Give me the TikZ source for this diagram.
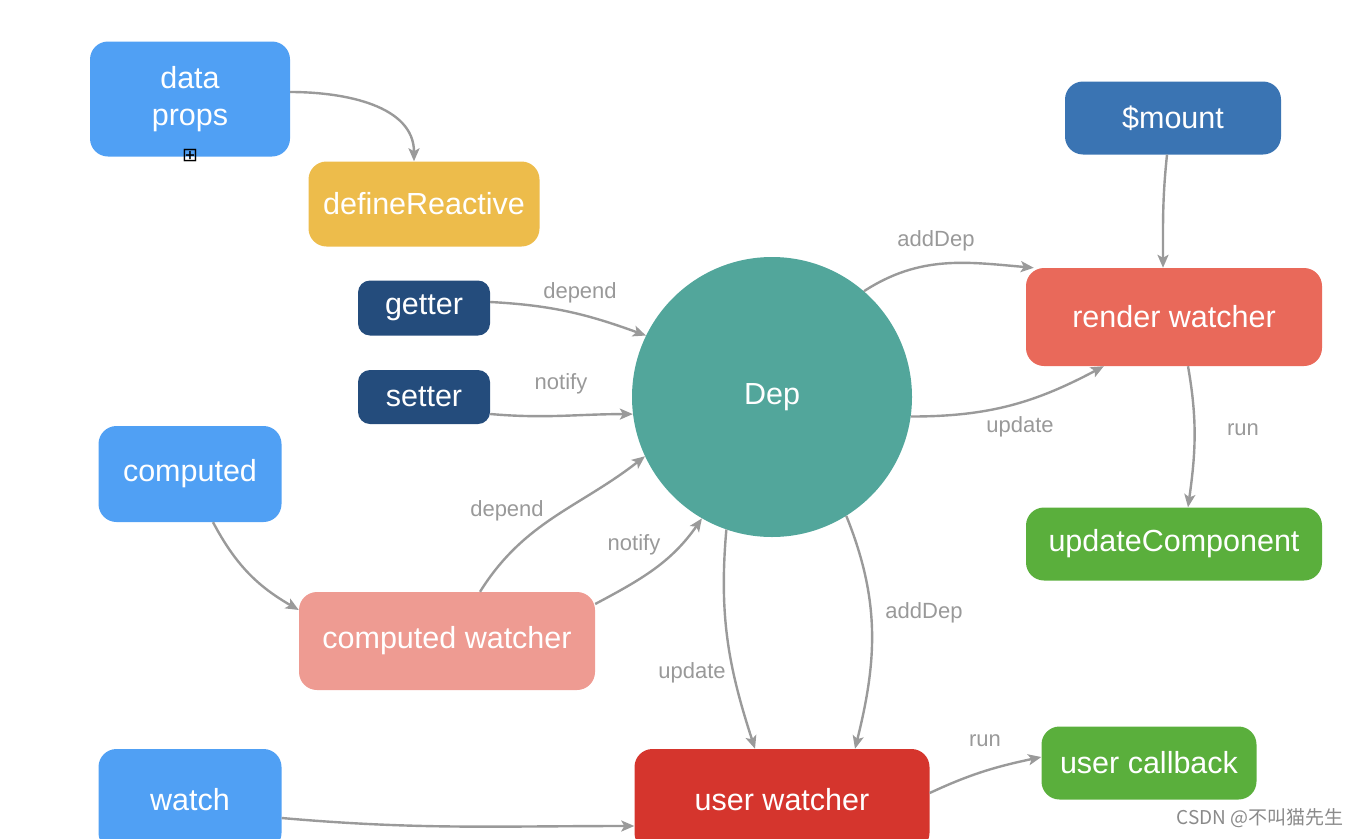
\documentclass[tikz,border=0pt]{standalone}
\usepackage{fontspec}
\setmainfont{Liberation Sans}
\newfontfamily\cjkfont{Noto Sans CJK SC}
\newfontfamily\symfont{DejaVu Sans}
\usetikzlibrary{arrows.meta}
\definecolor{propblue}{HTML}{50A0F4}
\definecolor{reactyellow}{HTML}{EDBC4B}
\definecolor{accnavy}{HTML}{244C7C}
\definecolor{depteal}{HTML}{52A69B}
\definecolor{mountblue}{HTML}{3A74B3}
\definecolor{renderred}{HTML}{E9695A}
\definecolor{compsalmon}{HTML}{EE9B92}
\definecolor{userred}{HTML}{D5352D}
\definecolor{cbgreen}{HTML}{5AAF3C}
\definecolor{arrowgray}{HTML}{9A9A9A}
\definecolor{labelgray}{HTML}{999999}

\begin{document}
\begin{tikzpicture}[x=1pt,y=-1pt,
  box/.style={rounded corners=18pt,text=white,inner sep=0pt,align=center,font=\fontsize{30.5}{37}\selectfont},
  arr/.style={draw=arrowgray,line width=2.4pt,-{Stealth[length=13pt,width=11pt,inset=3pt]}},
  lbl/.style={text=labelgray,font=\fontsize{22}{24}\selectfont}]
\useasboundingbox (0,0) rectangle (1362,838);
\clip (0,0) rectangle (1362,838);
\node[box,fill=propblue,minimum width=200pt,minimum height=115pt] (data) at (190,99) {data\\props};
\node[font=\symfont\fontsize{19}{19}\selectfont,inner sep=0pt] (icon) at (190,156) {⊞};
\node[box,fill=reactyellow,minimum width=231pt,minimum height=85pt] (def) at (424,204) {defineReactive};
\node[box,fill=accnavy,minimum width=132pt,minimum height=55pt,rounded corners=12pt] (get) at (424,308) {getter};
\node[box,fill=accnavy,minimum width=132pt,minimum height=54pt,rounded corners=12pt] (set) at (424,397) {setter};
\node[box,fill=propblue,minimum width=183pt,minimum height=96pt] (comp) at (190,474) {computed};
\node[box,fill=compsalmon,minimum width=296pt,minimum height=98pt] (cw) at (447,641) {computed watcher};
\node[box,fill=propblue,minimum width=183pt,minimum height=102pt] (watch) at (190,800) {watch};
\node[circle,fill=depteal,text=white,minimum size=280pt,inner sep=0pt,font=\fontsize{30.5}{34}\selectfont] (dep) at (772,397) {Dep};
\node[box,fill=mountblue,minimum width=216pt,minimum height=73pt] (mount) at (1173,118) {\$mount};
\node[box,fill=renderred,minimum width=296pt,minimum height=98pt] (rw) at (1174,317) {render watcher};
\node[box,fill=cbgreen,minimum width=296pt,minimum height=73pt] (upd) at (1174,544) {updateComponent};
\node[box,fill=userred,minimum width=295pt,minimum height=102pt] (uw) at (782,800) {user watcher};
\node[box,fill=cbgreen,minimum width=215pt,minimum height=73pt] (ucb) at (1149,763) {user callback};

\draw[arr] ([yshift=7pt]data.east) to[out=0,in=90] ([xshift=-10pt]def.north);
\draw[arr] ([yshift=6pt]get.east) to[out=-3,in=160] (dep.154);
\draw[arr] ([yshift=-17pt]set.east) to[out=-5,in=180] (dep.187);
\draw[arr] ([xshift=23pt]comp.south) to[out=-62,in=150] ([yshift=31pt]cw.west);
\draw[arr] ([xshift=33pt]cw.north) to[out=58,in=218] (dep.205);
\draw[arr] ([yshift=37pt]cw.east) to[out=28,in=235] (dep.240);
\draw[arr] (dep.49) to[out=33,in=175] ([xshift=8pt]rw.north west);
\draw[arr] (dep.-8) to[out=0,in=208] ([xshift=78pt]rw.south west);
\draw[arr] ([xshift=-6pt]mount.south) to[out=-96,in=90] ([xshift=-11pt]rw.north);
\draw[arr] ([xshift=14pt]rw.south) to[out=-80,in=82] ([xshift=14pt]upd.north);
\draw[arr] (dep.251) to[out=-95,in=108] ([xshift=-27pt]uw.north);
\draw[arr] (dep.-58) to[out=-68,in=76] ([xshift=73pt]uw.north);
\draw[arr] ([yshift=-18pt]watch.east) to[out=-5,in=180] ([yshift=-26pt]uw.west);
\draw[arr] ([yshift=7pt]uw.east) to[out=25,in=192] ([yshift=6pt]ucb.west);

\node[lbl] (ldep1) at (580,293) {depend};
\node[lbl] (lnot1) at (561,384) {notify};
\node[lbl] (ldep2) at (507,511) {depend};
\node[lbl] (lnot2) at (634,545) {notify};
\node[lbl] (ladd1) at (936,241) {addDep};
\node[lbl] (lupd1) at (1020,427) {update};
\node[lbl] (lrun1) at (1243,430) {run};
\node[lbl] (lupd2) at (692,673) {update};
\node[lbl] (ladd2) at (924,613) {addDep};
\node[lbl] (lrun2) at (985,741) {run};
\node[text=labelgray!90!black,font=\cjkfont\fontsize{19}{20}\selectfont] (mark) at (1260,818) {CSDN @不叫猫先生};
\end{tikzpicture}
\end{document}
